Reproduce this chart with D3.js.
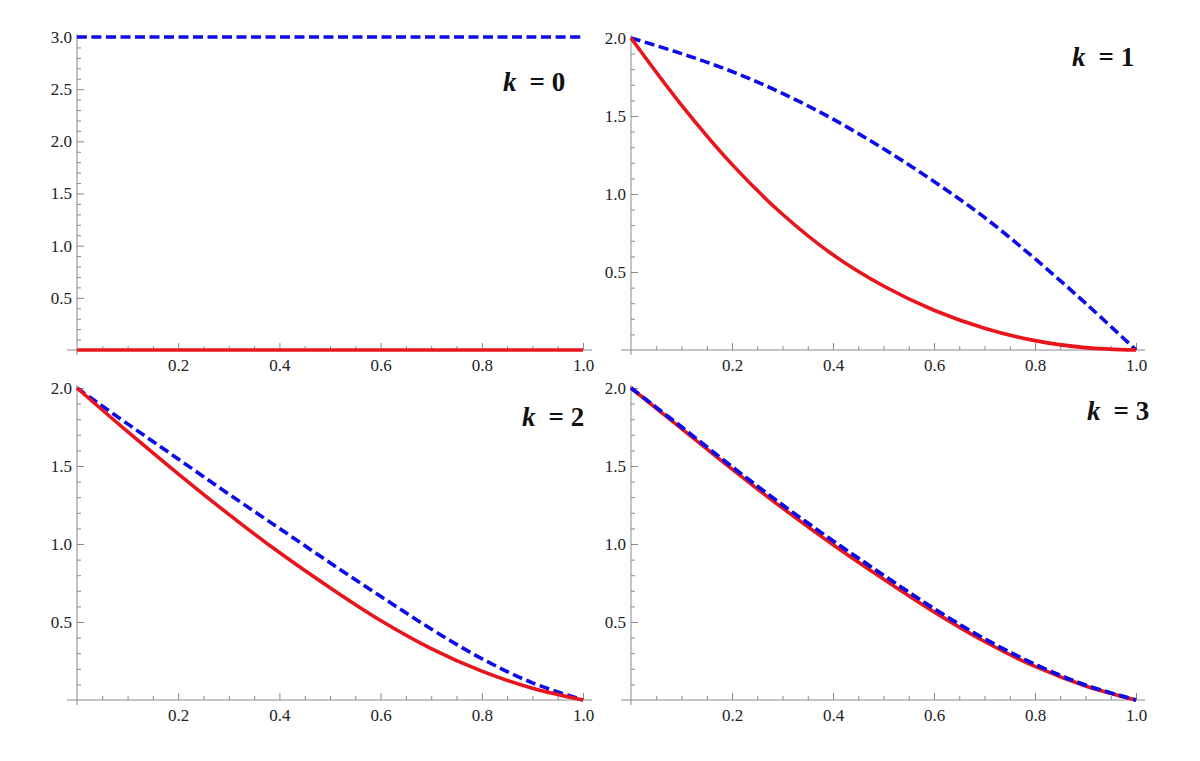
<!DOCTYPE html>
<html>
<head>
<meta charset="utf-8">
<script src="https://cdn.jsdelivr.net/npm/d3@7"></script>
<style>
body { margin: 0; background: #fff; }
svg text { font-family: "Liberation Serif", "Times New Roman", serif; }
</style>
</head>
<body>
<div id="viz"></div>
<script>
// sample points along x
var xs = [0, 0.1, 0.2, 0.3, 0.4, 0.5, 0.6, 0.7, 0.8, 0.9, 1.0];

var k0_red  = [0, 0, 0, 0, 0, 0, 0, 0, 0, 0, 0];
var k0_blue = [3, 3, 3, 3, 3, 3, 3, 3, 3, 3, 3];
var k1_red  = [2, 1.57, 1.19, 0.87, 0.61, 0.41, 0.255, 0.14, 0.06, 0.015, 0];
var k1_blue = [2, 1.90, 1.785, 1.645, 1.48, 1.29, 1.08, 0.85, 0.585, 0.30, 0];
var k2_red  = [2, 1.72, 1.45, 1.19, 0.945, 0.72, 0.51, 0.33, 0.185, 0.075, 0];
var k2_blue = [2, 1.77, 1.545, 1.32, 1.10, 0.88, 0.665, 0.455, 0.265, 0.11, 0];
var k3_red  = [2, 1.74, 1.48, 1.23, 0.995, 0.775, 0.565, 0.375, 0.215, 0.09, 0];
var k3_blue = [2, 1.75, 1.495, 1.25, 1.02, 0.80, 0.585, 0.392, 0.228, 0.095, 0];

var x_ticks = [0.2, 0.4, 0.6, 0.8, 1.0];
var y_ticks_k0 = [0.5, 1.0, 1.5, 2.0, 2.5, 3.0];
var y_ticks = [0.5, 1.0, 1.5, 2.0];

var red_colour = "#e8161c";
var blue_colour = "#0c0ce8";
var axis_colour = "#8a8a8a";
var tick_font = 17;
var label_font = 27;

var panels = [
  {k: 0, red: k0_red, blue: k0_blue, ymax: 3, yticks: y_ticks_k0, left: 77,  right: 583,  top: 37,  bottom: 350, lx: 503,  ly: 91},
  {k: 1, red: k1_red, blue: k1_blue, ymax: 2, yticks: y_ticks,    left: 631, right: 1136, top: 38,  bottom: 350, lx: 1072, ly: 66},
  {k: 2, red: k2_red, blue: k2_blue, ymax: 2, yticks: y_ticks,    left: 77,  right: 583,  top: 388, bottom: 700, lx: 522,  ly: 426},
  {k: 3, red: k3_red, blue: k3_blue, ymax: 2, yticks: y_ticks,    left: 631, right: 1136, top: 388, bottom: 700, lx: 1087, ly: 420}
];

var svg = d3.select("#viz")
  .append("svg")
  .attr("width", 1200)
  .attr("height", 761);

panels.forEach(function(p) {
  var x = d3.scaleLinear().domain([0, 1]).range([p.left, p.right]);
  var y = d3.scaleLinear().domain([0, p.ymax]).range([p.bottom, p.top]);
  var g = svg.append("g");

  var x_minor = d3.range(1, 20).map(function(i) { return i * 0.05; })
    .filter(function(v) { return Math.abs(v * 5 - Math.round(v * 5)) > 1e-6; });
  var y_minor = d3.range(1, Math.round(p.ymax * 10) + 1).map(function(i) { return i / 10; })
    .filter(function(v) { return Math.abs(v * 2 - Math.round(v * 2)) > 1e-6; });

  // minor ticks
  g.append("g")
    .attr("transform", "translate(0," + p.bottom + ")")
    .call(d3.axisBottom(x).tickValues(x_minor).tickSize(-4).tickFormat(""));
  g.append("g")
    .attr("transform", "translate(" + p.left + ",0)")
    .call(d3.axisLeft(y).tickValues(y_minor).tickSize(-4).tickFormat(""));

  // major ticks with labels
  g.append("g")
    .attr("transform", "translate(0," + p.bottom + ")")
    .call(d3.axisBottom(x).tickValues(x_ticks).tickSize(-7).tickPadding(9).tickFormat(d3.format(".1f")))
    .attr("font-size", tick_font)
    .attr("font-family", "Liberation Serif");
  g.append("g")
    .attr("transform", "translate(" + p.left + ",0)")
    .call(d3.axisLeft(y).tickValues(p.yticks).tickSize(-7).tickPadding(5).tickFormat(d3.format(".1f")))
    .attr("font-size", tick_font)
    .attr("font-family", "Liberation Serif");

  g.selectAll(".domain").remove();
  g.selectAll(".tick line").attr("stroke", axis_colour);
  g.selectAll(".tick text").attr("fill", "#222");

  // axis lines, slightly past the origin like Mathematica
  g.append("line")
    .attr("x1", p.left - 10).attr("x2", p.right + 9)
    .attr("y1", p.bottom).attr("y2", p.bottom)
    .attr("stroke", axis_colour).attr("stroke-width", 1);
  g.append("line")
    .attr("x1", p.left).attr("x2", p.left)
    .attr("y1", p.top - 3).attr("y2", p.bottom + 5)
    .attr("stroke", axis_colour).attr("stroke-width", 1);

  var curve = d3.line()
    .x(function(d, i) { return x(xs[i]); })
    .y(function(d) { return y(d); })
    .curve(d3.curveCatmullRom.alpha(0.5));

  g.append("path")
    .attr("d", curve(p.blue))
    .attr("fill", "none")
    .attr("stroke", blue_colour)
    .attr("stroke-width", 3.6)
    .attr("stroke-dasharray", "10,4.5");

  g.append("path")
    .attr("d", curve(p.red))
    .attr("fill", "none")
    .attr("stroke", red_colour)
    .attr("stroke-width", 3.6);

  // blue sits on top of red where the two nearly coincide
  if (p.k == 3) {
    g.append("path")
      .attr("d", curve(p.blue))
      .attr("fill", "none")
      .attr("stroke", blue_colour)
      .attr("stroke-width", 3.6)
      .attr("stroke-dasharray", "10,4.5");
  }

  var lab = g.append("text")
    .attr("x", p.lx)
    .attr("y", p.ly)
    .attr("font-size", label_font)
    .attr("font-weight", "bold")
    .attr("font-family", "Liberation Serif")
    .attr("fill", "#111");
  lab.append("tspan").attr("font-style", "italic").text("k");
  lab.append("tspan").attr("dx", 13).text("= " + p.k);
});
</script>
</body>
</html>
